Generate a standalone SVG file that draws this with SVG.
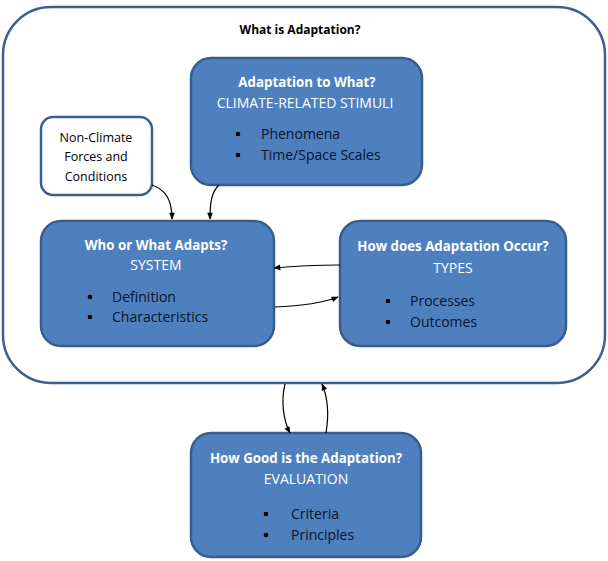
<svg xmlns="http://www.w3.org/2000/svg" width="608" height="561" viewBox="0 0 608 561">
<style>
.outer{fill:#fff;stroke:#3A5F95;stroke-width:2.5}
.box{fill:#4E80BF;stroke:#385D8A;stroke-width:2.5}
.wbox{fill:#fff;stroke:#3A5F95;stroke-width:2.5}
text{font-family:"Open Sans","Liberation Sans",Arial,sans-serif;font-size:14px}
.h{font-weight:bold;fill:#fff;text-anchor:middle;font-size:13.3px}
.s{fill:#fff;text-anchor:middle}
.b{fill:#0b1526}
.t{font-weight:bold;fill:#000;text-anchor:middle;font-size:12px}
.n{fill:#000;text-anchor:middle;font-size:12.5px}
.dot{fill:#000}
.c{fill:none;stroke:#000;stroke-width:1.2;marker-end:url(#ah)}
</style>
<defs>
<marker id="ah" viewBox="0 0 10 10" refX="9" refY="5" markerWidth="8" markerHeight="7" orient="auto-start-reverse" markerUnits="userSpaceOnUse">
<path d="M0,1 L10,5 L0,9 z" fill="#000"/>
</marker>
</defs>
<g id="outer">
<rect class="outer" x="3" y="7" width="602" height="376" rx="48"/>
<text class="t" x="300" y="34">What is Adaptation?</text>
</g>
<g id="stimuli">
<rect class="box" x="191" y="58" width="231" height="127" rx="20"/>
<text class="h" x="307" y="87">Adaptation to What?</text>
<text class="s" x="305" y="108">CLIMATE-RELATED STIMULI</text>
<circle class="dot" cx="238" cy="134" r="2.3"/>
<circle class="dot" cx="238" cy="155" r="2.3"/>
<text class="b" x="261" y="139">Phenomena</text>
<text class="b" x="261" y="160">Time/Space Scales</text>
</g>
<g id="nonclimate">
<rect class="wbox" x="41" y="117" width="111" height="78" rx="12"/>
<text class="n" x="96" y="142">Non-Climate</text>
<text class="n" x="96" y="161">Forces and</text>
<text class="n" x="96" y="181">Conditions</text>
</g>
<g id="system">
<rect class="box" x="41" y="221" width="233" height="125" rx="20"/>
<text class="h" x="156" y="250">Who or What Adapts?</text>
<text class="s" x="156" y="270">SYSTEM</text>
<circle class="dot" cx="90" cy="297" r="2.3"/>
<circle class="dot" cx="90" cy="317" r="2.3"/>
<text class="b" x="112" y="302">Definition</text>
<text class="b" x="112" y="322">Characteristics</text>
</g>
<g id="types">
<rect class="box" x="340" y="221" width="226" height="125" rx="20"/>
<text class="h" x="453" y="251">How does Adaptation Occur?</text>
<text class="s" x="453" y="273">TYPES</text>
<circle class="dot" cx="388" cy="301" r="2.3"/>
<circle class="dot" cx="388" cy="322" r="2.3"/>
<text class="b" x="410" y="306">Processes</text>
<text class="b" x="410" y="327">Outcomes</text>
</g>
<g id="evaluation">
<rect class="box" x="191" y="433" width="230" height="124" rx="20"/>
<text class="h" x="306" y="463">How Good is the Adaptation?</text>
<text class="s" x="306" y="484">EVALUATION</text>
<circle class="dot" cx="266" cy="514" r="2.3"/>
<circle class="dot" cx="266" cy="535" r="2.3"/>
<text class="b" x="291" y="519">Criteria</text>
<text class="b" x="291" y="540">Principles</text>
</g>
<g id="connectors">
<path class="c" d="M152,185 C166,190 172,200 172,219"/>
<path class="c" d="M219,185 C211,192 210,205 210,219"/>
<path class="c" d="M340,265 C315,265 295,266 274,268"/>
<path class="c" d="M275,307 C300,306 320,304 338,297"/>
<path class="c" d="M285,384 C281,400 283,420 290,433"/>
<path class="c" d="M326,433 C329,415 328,398 322,384"/>
</g>
</svg>
